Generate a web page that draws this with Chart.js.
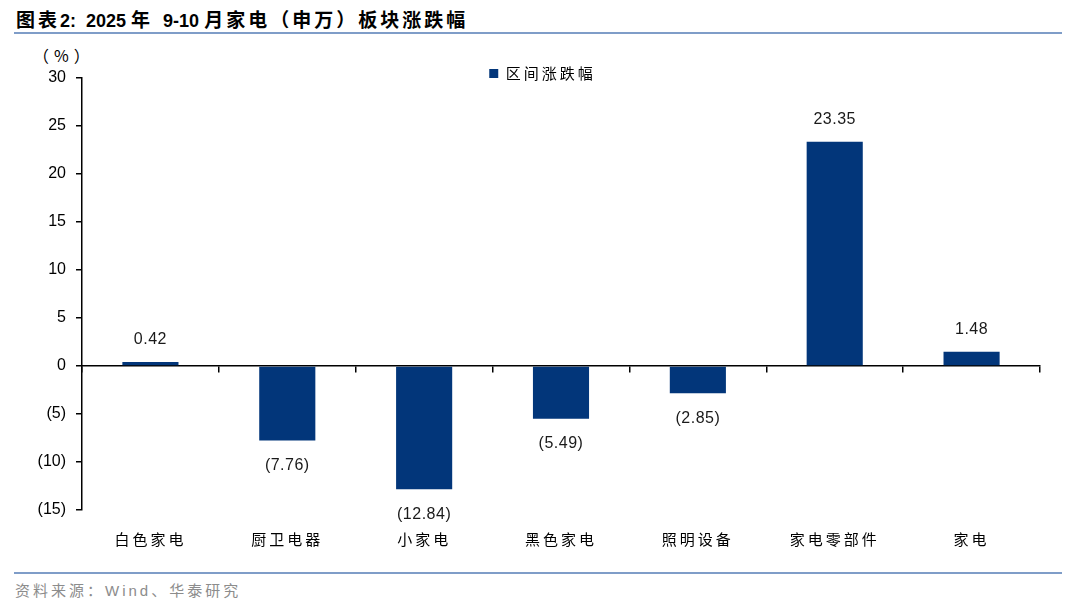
<!DOCTYPE html>
<html>
<head>
<meta charset="utf-8">
<script src="https://cdn.jsdelivr.net/npm/chart.js@4"></script>
<style>
  html, body { margin: 0; padding: 0; background: #fff; }
  body { width: 1080px; height: 608px; position: relative; overflow: hidden;
         font-family: "Liberation Sans", "Noto Sans CJK SC", sans-serif; }
  #title { position: absolute; left: 16px; top: 5px; font-size: 18px; font-weight: bold; color: #000; white-space: pre; }
  #title .c { font-family: "Noto Sans CJK SC", sans-serif; font-size: 19px; letter-spacing: 3px; }
  #title .g { display: inline-block; width: 10px; }
  .rule { position: absolute; left: 14px; width: 1048px; height: 2px; background: #7f9dc8; }
  #unit { position: absolute; left: 33px; top: 43px; font-size: 16px; color: #000; letter-spacing: 5px;
          font-family: "Noto Sans CJK SC", sans-serif; }
  #source { position: absolute; left: 15px; top: 579px; font-size: 15px; color: #8c8c8c; letter-spacing: 3px; }
  #wrap { position: absolute; left: 0; top: 0; width: 1080px; height: 608px; }
</style>
</head>
<body>
<div id="title"><span class="c">图表</span>2:<span class="g"></span>2025 <span class="c">年</span>  9-10 <span class="c">月家电（申万）板块涨跌幅</span></div>
<div class="rule" style="top:32px"></div>
<div id="unit">（%）</div>
<div class="rule" style="top:572px"></div>
<div id="source">资料来源：Wind、华泰研究</div>
<div id="wrap"><canvas id="chart"></canvas></div>
<script>
// data
const categories = ['白色家电', '厨卫电器', '小家电', '黑色家电', '照明设备', '家电零部件', '家电'];
const changeValues = [0.42, -7.76, -12.84, -5.49, -2.85, 23.35, 1.48];
const seriesName = '区间涨跌幅';
const yMin = -15, yMax = 30, yStep = 5;

const barColor = '#02367a';

function fmt(v, digits) {
  const s = Math.abs(v).toFixed(digits);
  return v < 0 ? '(' + s + ')' : s;
}

// draw a box's text with a bit of letter spacing, like the original
function spaced(ctx, fn, px) {
  ctx.save();
  ctx.letterSpacing = px + 'px';
  fn();
  ctx.restore();
}

// value labels above / below each bar, and some layout nudges
const valueLabels = {
  id: 'valueLabels',
  afterLayout(chart) {
    const lg = chart.legend;
    lg.left += 15; lg.right += 15;
    lg.top += 13; lg.bottom += 13;
    if (!lg._spaced) {
      const draw = lg.draw.bind(lg);
      lg.draw = (area) => spaced(chart.ctx, () => draw(area), 3);
      lg._spaced = true;
    }
    const xs = chart.scales.x;
    if (!xs._spaced) {
      const drawLabels = xs.drawLabels.bind(xs);
      xs.drawLabels = (area) => spaced(chart.ctx, () => drawLabels(area), 3);
      xs._spaced = true;
    }
  },
  afterDatasetsDraw(chart) {
    const ctx = chart.ctx;
    const meta = chart.getDatasetMeta(0);
    ctx.save();
    ctx.font = '16px "Liberation Sans", Arial, sans-serif';
    ctx.letterSpacing = '0.5px';
    ctx.fillStyle = '#1a1a1a';
    ctx.textAlign = 'center';
    ctx.textBaseline = 'middle';
    meta.data.forEach((bar, i) => {
      const v = changeValues[i];
      const y = v >= 0 ? bar.y - 22 : bar.y + 25;
      ctx.fillText(fmt(v, 2), bar.x, y);
    });
    ctx.restore();
  }
};

new Chart(document.getElementById('chart'), {
  type: 'bar',
  data: {
    labels: categories,
    datasets: [{
      label: seriesName,
      data: changeValues,
      backgroundColor: barColor,
      borderWidth: 0,
      categoryPercentage: 1,
      barPercentage: 0.41,
      xAxisID: 'x'
    }]
  },
  options: {
    responsive: true,
    maintainAspectRatio: false,
    animation: false,
    layout: { padding: { left: 0, top: 51, right: 40, bottom: 58 } },
    plugins: {
      tooltip: { enabled: false },
      legend: {
        position: 'top',
        align: 'center',
        onClick: null,
        labels: {
          boxWidth: 9,
          boxHeight: 9,
          color: '#000',
          padding: 2,
          font: { size: 15, family: '"Noto Sans CJK SC", sans-serif' }
        }
      }
    },
    scales: {
      x: {
        type: 'category',
        position: 'bottom',
        offset: true,
        border: { display: false },
        grid: { display: false },
        ticks: {
          color: '#000',
          padding: 12,
          maxRotation: 0,
          font: { size: 15, family: '"Noto Sans CJK SC", sans-serif' }
        },
        afterFit(scale) { scale.height = 40; }
      },
      x0: {
        type: 'category',
        position: { y: 0 },
        offset: true,
        border: { display: true, color: '#000', width: 1.5 },
        grid: { offset: true, drawOnChartArea: false, drawTicks: true, tickLength: 6, color: '#000', lineWidth: 1.5 },
        ticks: { display: false }
      },
      y: {
        min: yMin,
        max: yMax,
        border: { display: true, color: '#000', width: 1.5 },
        grid: { drawOnChartArea: false, drawTicks: true, tickLength: 6, color: '#000', lineWidth: 1.5 },
        ticks: {
          stepSize: yStep,
          color: '#000',
          padding: 10,
          font: { size: 16, family: '"Liberation Sans", Arial, sans-serif' },
          callback: v => fmt(v, 0)
        },
        afterFit(scale) { scale.width = 82; }
      }
    }
  },
  plugins: [valueLabels]
});
</script>
</body>
</html>
